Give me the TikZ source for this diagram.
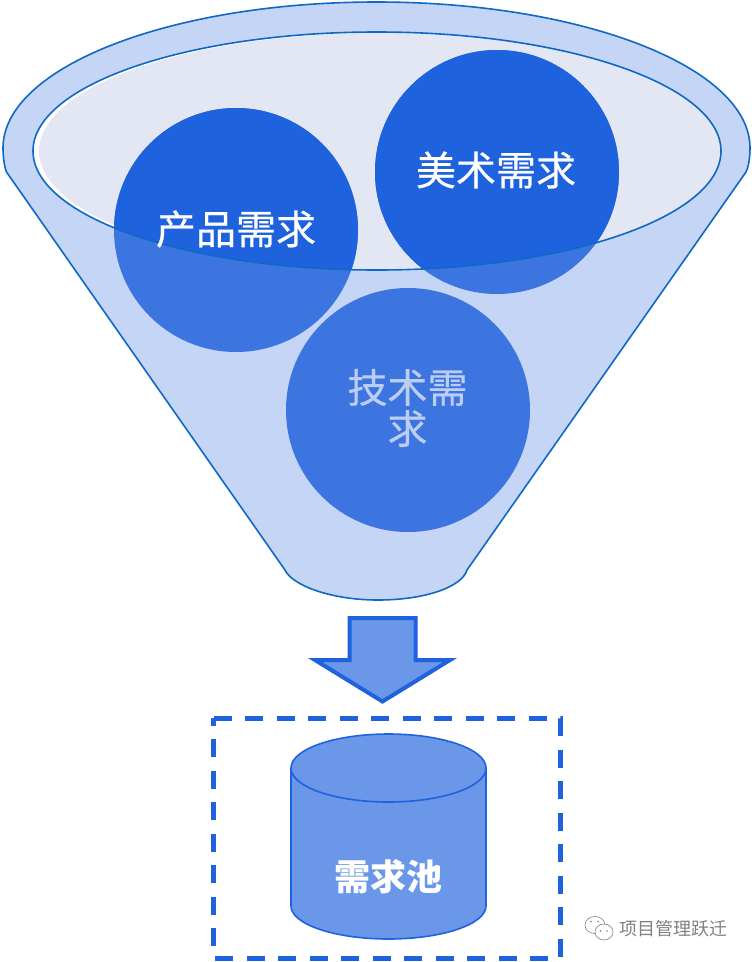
\documentclass[tikz,border=0pt]{standalone}
\usepackage{fontspec}
\setmainfont{Noto Sans CJK SC}
\newfontfamily\cjkmed[FakeBold=0.5]{Noto Sans CJK SC}
\definecolor{funnelfill}{HTML}{C5D5F5}
\definecolor{funnelline}{HTML}{0F69C4}
\definecolor{innerfill}{HTML}{E3E7F4}
\definecolor{deepblue}{HTML}{1E62DE}
\definecolor{midblue}{HTML}{3D75E0}
\definecolor{softblue}{HTML}{6A97E8}
\definecolor{techtext}{HTML}{BBCDF3}
\definecolor{marktext}{HTML}{808080}
\tikzset{
  funnelshape/.style={fill=funnelfill,draw=funnelline,line width=1.6pt},
  ball/.style={circle,minimum size=244pt,inner sep=0pt,fill=midblue},
  balltext/.style={text=white,font=\cjkmed\fontsize{40}{41}\selectfont,align=center},
  markbubble/.style={draw=marktext,line width=.6pt,fill=white},
}
\begin{document}
\begin{tikzpicture}[x=1pt,y=-1pt]
\useasboundingbox (0,0) rectangle (752,962);
% funnel body and rim
\draw[funnelshape] (6.5,172) -- (285,570) .. controls (292,585) and (330,600) .. (378,600)
  .. controls (425,600) and (462,587) .. (467,570) -- (746,172)
  .. controls (749,166) and (750,155) .. (750,148)
  arc[start angle=0,end angle=-180,x radius=373.5,y radius=146]
  .. controls (3,155) and (4,166) .. (6.5,172) -- cycle;
% inner bowl
\fill[white] (377,151) ellipse[x radius=344,y radius=119];
\fill[innerfill] (380,151) ellipse[x radius=341,y radius=118];
% balls
\node[ball] (art) at (497,172) {};
\node[ball] (product) at (236,230) {};
\node[ball] (tech) at (408,410) {};
\begin{scope}
  \clip (377,151) ellipse[x radius=344,y radius=119];
  \fill[deepblue] (art) circle[radius=122];
  \fill[deepblue] (product) circle[radius=122];
\end{scope}
\draw[funnelline,line width=1.6pt] (377,151) ellipse[x radius=344,y radius=119];
\node[balltext] at (496,170) {美术需求};
\node[balltext] at (236,229) {产品需求};
\node[balltext,text=techtext] at (407.5,408) {技术需\\求};
% arrow
\draw[fill=softblue,draw=deepblue,line width=4pt,miter limit=10]
  (349.5,618) -- (415.5,618) -- (415.5,660) -- (450,660) -- (382.5,701.5) -- (315,660) -- (349.5,660) -- cycle;
% pool
\draw[deepblue,line width=5pt,dash pattern=on 18pt off 13.5pt] (213.5,718) -- (560,718) -- (560,958) -- (213.5,958) -- cycle;
\draw[fill=softblue,draw=deepblue,line width=1.6pt]
  (291,768) -- (291,906) arc[start angle=180,end angle=0,x radius=97.5,y radius=33]
  -- (486,768);
\draw[fill=softblue,draw=deepblue,line width=1.6pt] (388.5,768) ellipse[x radius=97.5,y radius=34];
\node[text=white,font=\fontsize{36}{40}\selectfont\bfseries] (pool) at (388,877) {需求池};
% watermark
\draw[markbubble] (595,925) ellipse[x radius=10,y radius=8.5];
\draw[markbubble] (604,932) ellipse[x radius=9,y radius=8];
\fill[marktext] (591,921.5) circle[radius=.8] (598,921.5) circle[radius=.8] (600.5,931) circle[radius=.8] (607,931) circle[radius=.8];
\node[text=marktext,font=\fontsize{18}{20}\selectfont,inner sep=0pt] (mark) at (673.5,929) {项目管理跃迁};
\end{tikzpicture}
\end{document}
